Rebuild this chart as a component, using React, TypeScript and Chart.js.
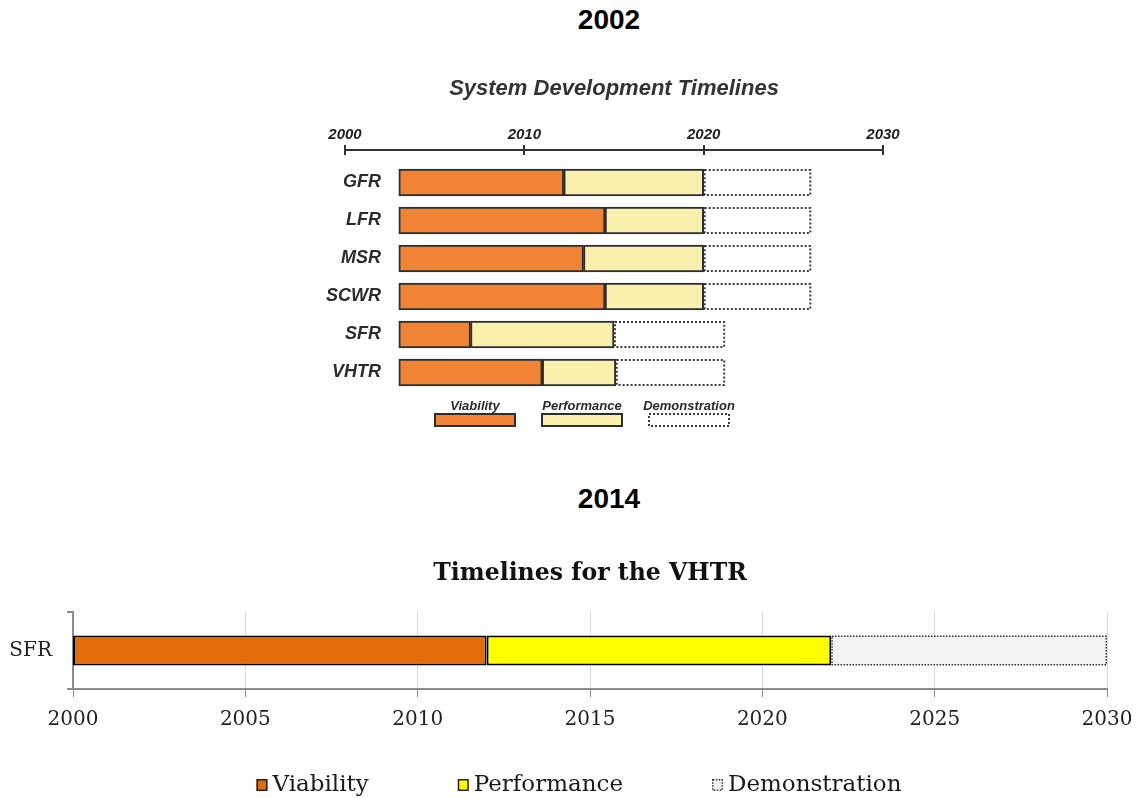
import { useEffect, useRef } from 'react';
import { Chart, registerables } from 'chart.js';

Chart.register(...registerables);

// ---------- 2002 data ----------
const systems2002 = ['GFR', 'LFR', 'MSR', 'SCWR', 'SFR', 'VHTR'];
const viability2002: [number, number][] = [
  [2003, 2012.2], [2003, 2014.5], [2003, 2013.3], [2003, 2014.5], [2003, 2007], [2003, 2011],
];
const performance2002: [number, number][] = [
  [2012.2, 2020], [2014.5, 2020], [2013.3, 2020], [2014.5, 2020], [2007, 2015], [2011, 2015.1],
];
const demonstration2002: [number, number][] = [
  [2020, 2026], [2020, 2026], [2020, 2026], [2020, 2026], [2015, 2021.2], [2015.1, 2021.2],
];
const ticks2002 = [2000, 2010, 2020, 2030];

// ---------- 2014 data ----------
const systems2014 = ['SFR'];
const viability2014: [number, number][] = [[2000, 2012]];
const performance2014: [number, number][] = [[2012, 2022]];
const demonstration2014: [number, number][] = [[2022, 2030]];
const ticks2014 = [2000, 2005, 2010, 2015, 2020, 2025, 2030];

const phaseLabels = ['Viability', 'Performance', 'Demonstration'];

const SANS = '"Liberation Sans", Arial, sans-serif';
const SERIF = '"DejaVu Serif", serif';

const dottedPlugin = {
  id: 'dottedBorders',
  afterDatasetsDraw(chart: any) {
    const ctx = chart.ctx;
    chart.data.datasets.forEach((ds: any, di: number) => {
      if (!ds.dotted) return;
      const meta = chart.getDatasetMeta(di);
      meta.data.forEach((el: any) => {
        const p = el.getProps(['x', 'y', 'base', 'height'], true);
        const lw = ds.dotWidth;
        const left = Math.min(p.x, p.base) + lw / 2;
        const right = Math.max(p.x, p.base) - lw / 2;
        const top = p.y - p.height / 2 + lw / 2;
        const bottom = p.y + p.height / 2 - lw / 2;
        ctx.save();
        ctx.strokeStyle = ds.dotColor;
        ctx.lineWidth = lw;
        ctx.setLineDash(ds.dotDash);
        ctx.strokeRect(left, top, right - left, bottom - top);
        ctx.restore();
      });
    });
  },
};

function topConfig(): any {
  const mk = (arr: [number, number][]) => arr.map((r, i) => ({ x: r, y: i }));
  return {
    type: 'bar',
    data: {
      datasets: [
        {
          label: phaseLabels[0], data: mk(viability2002), backgroundColor: '#F08434',
          borderColor: '#2e2e2e', borderWidth: 2, borderSkipped: false,
        },
        {
          label: phaseLabels[1], data: mk(performance2002), backgroundColor: '#F9F0AD',
          borderColor: '#2e2e2e', borderWidth: 2, borderSkipped: false,
        },
        {
          label: phaseLabels[2], data: mk(demonstration2002), backgroundColor: 'rgba(255,255,255,0)',
          borderWidth: 0, dotted: true, dotColor: '#3c3c3c', dotWidth: 2, dotDash: [2, 2],
        },
      ],
    },
    plugins: [
      dottedPlugin,
      {
        id: 'topExtras',
        afterDraw(chart: any) {
          const ctx = chart.ctx;
          const ca = chart.chartArea;
          const xs = chart.scales.x;
          const ys = chart.scales.y;
          ctx.save();
          // ticks crossing below the axis line
          ctx.strokeStyle = '#333';
          ctx.lineWidth = 2;
          ticks2002.forEach((t) => {
            const px = Math.round(xs.getPixelForValue(t));
            ctx.beginPath();
            ctx.moveTo(px, ca.top);
            ctx.lineTo(px, ca.top + 5);
            ctx.stroke();
          });
          // category labels
          ctx.fillStyle = '#2b2b2b';
          ctx.font = `italic bold 18px ${SANS}`;
          ctx.textAlign = 'right';
          ctx.textBaseline = 'middle';
          systems2002.forEach((s, i) => {
            ctx.fillText(s, ca.left + 36, ys.getPixelForValue(i));
          });
          // legend: label above box
          chart.data.datasets.forEach((ds: any, i: number) => {
            const bx = ca.left + 89 + i * 107;
            const by = ca.bottom + 21.5;
            const w = 82;
            const h = 14;
            if (ds.dotted) {
              ctx.strokeStyle = ds.dotColor;
              ctx.lineWidth = 2;
              ctx.setLineDash(ds.dotDash);
              ctx.strokeRect(bx + 1, by + 1, w - 2, h - 2);
              ctx.setLineDash([]);
            } else {
              ctx.fillStyle = ds.borderColor;
              ctx.fillRect(bx, by, w, h);
              ctx.fillStyle = ds.backgroundColor;
              ctx.fillRect(bx + 2, by + 2, w - 4, h - 4);
            }
            ctx.fillStyle = '#2b2b2b';
            ctx.font = `italic bold 13px ${SANS}`;
            ctx.textAlign = 'center';
            ctx.textBaseline = 'alphabetic';
            ctx.fillText(ds.label, bx + w / 2, by - 3);
          });
          ctx.restore();
        },
      },
    ],
    options: {
      responsive: false,
      animation: false,
      indexAxis: 'y',
      layout: { padding: { left: 345, right: 255, top: 0, bottom: 48.5 } },
      datasets: { bar: { grouped: false, barThickness: 27 } },
      plugins: {
        legend: { display: false },
        tooltip: { enabled: false },
        title: {
          display: true,
          fullSize: false,
          text: 'System Development Timelines',
          color: '#333',
          font: { family: SANS, size: 22, weight: 'bold', style: 'italic', lineHeight: 1.2 },
          padding: { top: 25.8, bottom: 22.8 },
        },
      },
      scales: {
        x: {
          type: 'linear',
          position: 'top',
          min: 2000,
          max: 2030,
          afterBuildTicks: (scale: any) => {
            scale.ticks = ticks2002.map((v) => ({ value: v }));
          },
          ticks: {
            callback: (v: any) => String(v),
            color: '#222',
            padding: 1,
            font: { family: SANS, size: 15, weight: 'bold', style: 'italic', lineHeight: 1.2 },
          },
          grid: { drawOnChartArea: false, tickLength: 5, tickColor: '#333', lineWidth: 2 },
          border: { display: true, color: '#333', width: 2 },
        },
        y: {
          type: 'linear',
          reverse: true,
          offset: false,
          min: -0.855,
          max: 5.5,
          display: false,
        },
      },
    },
  };
}

function bottomConfig(): any {
  return {
    type: 'bar',
    data: {
      labels: systems2014,
      datasets: [
        {
          label: phaseLabels[0], data: viability2014, backgroundColor: '#E36C0A',
          borderColor: '#000', borderWidth: 2, borderSkipped: false,
        },
        {
          label: phaseLabels[1], data: performance2014, backgroundColor: '#FFFF00',
          borderColor: '#000', borderWidth: 2, borderSkipped: false,
        },
        {
          label: phaseLabels[2], data: demonstration2014, backgroundColor: '#F2F2F2',
          borderWidth: 0, dotted: true, dotColor: '#333', dotWidth: 1.5, dotDash: [1.5, 1.5],
        },
      ],
    },
    plugins: [
      dottedPlugin,
      {
        id: 'bottomLegend',
        afterDraw(chart: any) {
          const ctx = chart.ctx;
          const ca = chart.chartArea;
          ctx.save();
          ctx.font = `23px ${SERIF}`;
          const box = 11;
          const gapText = 5;
          const gapItem = 89;
          const items = chart.data.datasets.map((ds: any) => ({
            ds,
            w: box + gapText + ctx.measureText(ds.label).width,
          }));
          const total = items.reduce((a: number, it: any) => a + it.w, 0) + gapItem * (items.length - 1);
          let x = (ca.left + ca.right) / 2 - 11 - total / 2;
          const cy = ca.bottom + 96;
          items.forEach((it: any) => {
            const ds = it.ds;
            ctx.fillStyle = ds.backgroundColor;
            ctx.fillRect(x, cy - 6, box, 12);
            ctx.lineWidth = 1.5;
            if (ds.dotted) {
              ctx.setLineDash([1.5, 1.5]);
              ctx.strokeStyle = ds.dotColor;
            } else {
              ctx.setLineDash([]);
              ctx.strokeStyle = '#222';
            }
            ctx.strokeRect(x + 0.75, cy - 5.25, box - 1.5, 10.5);
            ctx.setLineDash([]);
            ctx.fillStyle = '#1a1a1a';
            ctx.textAlign = 'left';
            ctx.textBaseline = 'middle';
            ctx.fillText(ds.label, x + box + gapText, cy);
            x += it.w + gapItem;
          });
          ctx.restore();
        },
      },
    ],
    options: {
      responsive: false,
      animation: false,
      indexAxis: 'y',
      layout: { padding: { left: 0, right: 31, top: 0, bottom: 55 } },
      datasets: { bar: { grouped: false, barPercentage: 0.39, categoryPercentage: 1 } },
      plugins: {
        legend: { display: false },
        tooltip: { enabled: false },
        title: {
          display: true,
          fullSize: false,
          text: 'Timelines for the VHTR',
          color: '#111',
          font: { family: SERIF, size: 23.6, weight: 'bold', lineHeight: 1.2 },
          padding: { top: 19.8, bottom: 23.8 },
        },
      },
      scales: {
        x: {
          type: 'linear',
          min: 2000,
          max: 2030,
          afterBuildTicks: (scale: any) => {
            scale.ticks = ticks2014.map((v) => ({ value: v }));
          },
          ticks: {
            callback: (v: any) => String(v),
            color: '#222',
            padding: 1,
            font: { family: SERIF, size: 20, lineHeight: 2.2 },
          },
          grid: { color: '#d9d9d9', lineWidth: 1, tickColor: '#8c8c8c', tickLength: 8 },
          border: { display: true, color: '#8c8c8c', width: 2 },
        },
        y: {
          type: 'category',
          offset: true,
          afterFit: (scale: any) => {
            scale.width = 73;
          },
          ticks: {
            color: '#222',
            padding: 15,
            font: { family: SERIF, size: 20, lineHeight: 1.2 },
          },
          grid: { offset: true, drawOnChartArea: false, tickLength: 6, tickColor: '#8c8c8c', lineWidth: 2 },
          border: { display: true, color: '#8c8c8c', width: 2 },
        },
      },
    },
  };
}

export default function App() {
  const topRef = useRef<HTMLCanvasElement>(null);
  const bottomRef = useRef<HTMLCanvasElement>(null);

  useEffect(() => {
    const c1 = new Chart(topRef.current as HTMLCanvasElement, topConfig());
    const c2 = new Chart(bottomRef.current as HTMLCanvasElement, bottomConfig());
    return () => {
      c1.destroy();
      c2.destroy();
    };
  }, []);

  const head: any = {
    position: 'absolute',
    left: 509,
    width: 200,
    textAlign: 'center',
    font: `bold 28px/28px ${SANS}`,
    color: '#000',
  };

  return (
    <div style={{ position: 'fixed', left: 0, top: 0, width: 1138, height: 798, background: '#fff', overflow: 'hidden' }}>
      <div style={{ ...head, top: 6 }}>2002</div>
      <canvas ref={topRef} width={1138} height={390} style={{ position: 'absolute', left: 0, top: 50 }} />
      <div style={{ ...head, top: 485 }}>2014</div>
      <canvas ref={bottomRef} width={1138} height={258} style={{ position: 'absolute', left: 0, top: 540 }} />
    </div>
  );
}
